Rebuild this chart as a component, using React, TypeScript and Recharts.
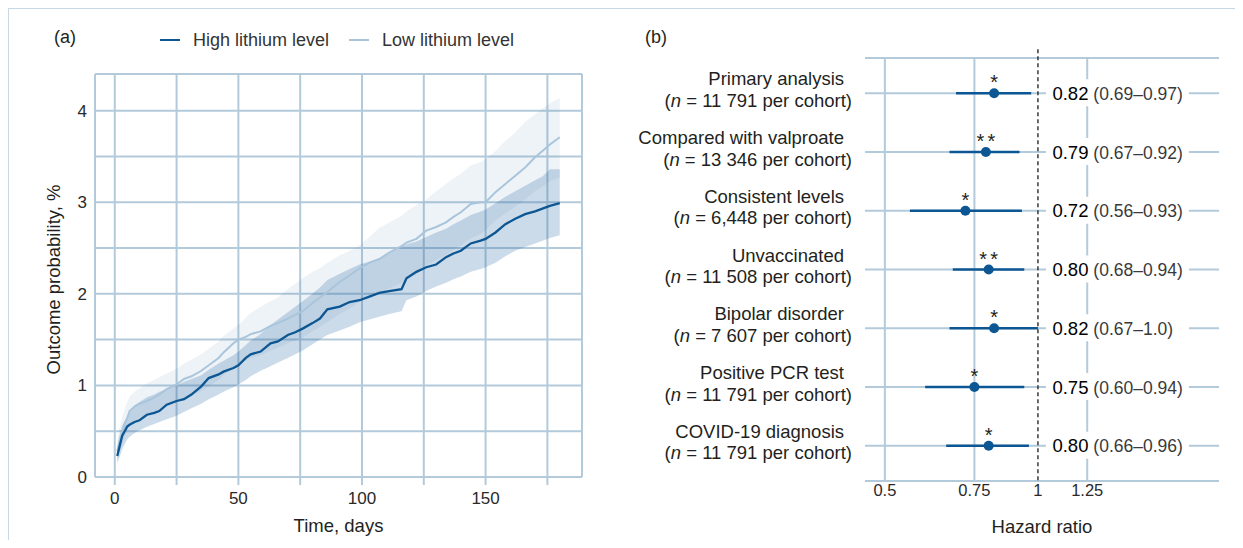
import React from 'react';
import {
  ComposedChart,
  ScatterChart,
  Scatter,
  Line,
  Area,
  XAxis,
  YAxis,
  CartesianGrid,
  ErrorBar,
  ReferenceLine,
  Label,
} from 'recharts';

const FONT = "'Liberation Sans', Arial, Helvetica, sans-serif";
const GRID = '#b3cadb';
const FRAME = '#c6d8e5';
const DARK = '#0c5793';
const LIGHT = '#a9c5db';
const BAND = '#2b6aa3';
const TEXT = '#231f20';

// ---------- Panel (a): cumulative outcome probability ----------
const days = [1, 2, 3, 4, 5, 6, 8, 10, 13, 16, 18, 21, 25, 28, 31, 35, 38, 42, 44, 48, 50, 53, 55, 59, 63, 66, 70, 73, 76, 80, 83, 86, 91, 95, 99, 103, 107, 111, 116, 118, 122, 126, 130, 134, 137, 140, 144, 148, 150, 154, 158, 162, 166, 170, 173, 176, 180];
const highLithium = [0.23, 0.34, 0.45, 0.5, 0.55, 0.57, 0.6, 0.62, 0.68, 0.7, 0.72, 0.79, 0.83, 0.85, 0.9, 0.99, 1.08, 1.12, 1.15, 1.19, 1.22, 1.3, 1.34, 1.37, 1.46, 1.48, 1.55, 1.58, 1.62, 1.68, 1.73, 1.83, 1.86, 1.91, 1.93, 1.97, 2.01, 2.03, 2.05, 2.17, 2.24, 2.29, 2.32, 2.4, 2.44, 2.47, 2.55, 2.58, 2.6, 2.67, 2.76, 2.82, 2.87, 2.9, 2.93, 2.96, 2.99];
const lowLithium = [0.28, 0.4, 0.48, 0.58, 0.64, 0.72, 0.77, 0.8, 0.83, 0.87, 0.9, 0.96, 1.01, 1.07, 1.1, 1.16, 1.22, 1.3, 1.36, 1.46, 1.5, 1.53, 1.56, 1.59, 1.65, 1.68, 1.73, 1.77, 1.81, 1.9, 1.96, 2.02, 2.13, 2.2, 2.28, 2.34, 2.38, 2.45, 2.52, 2.56, 2.6, 2.69, 2.73, 2.78, 2.84, 2.89, 2.98, 3.0, 3.0, 3.11, 3.2, 3.29, 3.38, 3.49, 3.56, 3.63, 3.71];
const highLower = [0.15, 0.22, 0.3, 0.36, 0.41, 0.44, 0.48, 0.51, 0.55, 0.58, 0.6, 0.63, 0.67, 0.71, 0.75, 0.8, 0.85, 0.9, 0.93, 0.98, 1.01, 1.06, 1.1, 1.16, 1.21, 1.25, 1.3, 1.34, 1.38, 1.45, 1.5, 1.55, 1.6, 1.64, 1.69, 1.72, 1.75, 1.78, 1.81, 1.93, 1.97, 2.03, 2.08, 2.12, 2.16, 2.19, 2.24, 2.27, 2.29, 2.34, 2.41, 2.47, 2.51, 2.55, 2.58, 2.61, 2.64];
const highUpper = [0.32, 0.46, 0.56, 0.61, 0.66, 0.7, 0.78, 0.82, 0.87, 0.9, 0.93, 0.96, 1.0, 1.04, 1.07, 1.11, 1.17, 1.24, 1.27, 1.33, 1.37, 1.44, 1.49, 1.56, 1.66, 1.72, 1.8, 1.86, 1.92, 2.0, 2.07, 2.15, 2.22, 2.27, 2.32, 2.35, 2.38, 2.44, 2.51, 2.54, 2.57, 2.62, 2.67, 2.71, 2.76, 2.8, 2.86, 2.9, 2.92, 2.99, 3.06, 3.12, 3.18, 3.24, 3.28, 3.36, 3.36];
const lowLower = [0.18, 0.28, 0.36, 0.44, 0.5, 0.56, 0.62, 0.65, 0.68, 0.71, 0.73, 0.77, 0.81, 0.86, 0.89, 0.94, 0.99, 1.06, 1.11, 1.19, 1.23, 1.27, 1.3, 1.33, 1.38, 1.41, 1.46, 1.49, 1.52, 1.59, 1.64, 1.69, 1.78, 1.84, 1.91, 1.96, 2.0, 2.06, 2.12, 2.16, 2.21, 2.31, 2.37, 2.42, 2.48, 2.53, 2.61, 2.65, 2.7, 2.8, 2.88, 2.95, 3.03, 3.12, 3.17, 3.23, 3.27];
const lowUpper = [0.4, 0.55, 0.65, 0.74, 0.82, 0.88, 0.93, 0.97, 1.02, 1.06, 1.09, 1.13, 1.18, 1.24, 1.28, 1.34, 1.4, 1.48, 1.54, 1.62, 1.66, 1.74, 1.79, 1.86, 1.92, 1.96, 2.05, 2.11, 2.17, 2.24, 2.28, 2.34, 2.42, 2.47, 2.53, 2.62, 2.72, 2.78, 2.85, 2.9, 2.97, 3.03, 3.12, 3.2, 3.26, 3.31, 3.4, 3.44, 3.47, 3.56, 3.67, 3.76, 3.88, 3.96, 4.02, 4.08, 4.14];
const timeTicks = [0, 25, 50, 75, 100, 125, 150, 175];
const probabilityTicks = [0, 0.5, 1, 1.5, 2, 2.5, 3, 3.5, 4];
const seriesNames = ['High lithium level', 'Low lithium level'];

const survival = days.map((d, i) => ({
  day: d,
  high: highLithium[i],
  low: lowLithium[i],
  highBand: [highLower[i], highUpper[i]],
  lowBand: [lowLower[i], lowUpper[i]],
}));

// ---------- Panel (b): hazard ratios ----------
const analyses = ['Primary analysis', 'Compared with valproate', 'Consistent levels', 'Unvaccinated', 'Bipolar disorder', 'Positive PCR test', 'COVID-19 diagnosis'];
const cohortSizes = ['11 791', '13 346', '6,448', '11 508', '7 607', '11 791', '11 791'];
const hazardRatios = [0.82, 0.79, 0.72, 0.8, 0.82, 0.75, 0.8];
const ciLower = [0.69, 0.67, 0.56, 0.68, 0.67, 0.6, 0.66];
const ciUpper = [0.97, 0.92, 0.93, 0.94, 1.0, 0.94, 0.96];
const significance = ['*', '**', '*', '**', '*', '*', '*'];
const hrLabels = ['0.82', '0.79', '0.72', '0.80', '0.82', '0.75', '0.80'];
const ciLabels = ['(0.69–0.97)', '(0.67–0.92)', '(0.56–0.93)', '(0.68–0.94)', '(0.67–1.0)', '(0.60–0.94)', '(0.66–0.96)'];
const hrTicks = [0.5, 0.75, 1, 1.25];
const hrGridValues = [0.5, 0.75, 1.25];
const nullEffect = 1;
const rowTicks = analyses.map((_, i) => i);

const hrPoints = hazardRatios.map((hr, i) => ({
  x: hr,
  row: i,
  err: [hr - ciLower[i], ciUpper[i] - hr],
  sig: significance[i],
}));
const hrTextRows = hazardRatios.map((_, i) => ({
  x: nullEffect,
  row: i,
  hr: hrLabels[i],
  ci: ciLabels[i],
}));

const RowTick = (props: any) => {
  const { x, y, payload } = props;
  const i = payload.value;
  if (analyses[i] === undefined) return null;
  return (
    <g>
      <text x={x - 21} y={y - 8} textAnchor="end" fontSize={18.5} fill={TEXT} fontFamily={FONT}>
        {analyses[i]}
      </text>
      <text x={x - 13} y={y + 13.5} textAnchor="end" fontSize={18.5} fill={TEXT} fontFamily={FONT}>
        (<tspan fontStyle="italic">n</tspan> = {cohortSizes[i]} per cohort)
      </text>
    </g>
  );
};

const HrDot = (props: any) => {
  const { cx, cy, payload } = props;
  const two = payload.sig.length > 1;
  return (
    <g>
      <circle cx={cx} cy={cy} r={5} fill={DARK} />
      <text
        x={cx + (two ? 1.5 : 0)}
        y={cy - 4}
        textAnchor="middle"
        fontSize={20}
        letterSpacing={two ? 3 : 0}
        fill={TEXT}
        fontFamily={FONT}
      >
        {payload.sig}
      </text>
    </g>
  );
};

const HrText = (props: any) => {
  const { cx, cy, payload } = props;
  return (
    <g>
      <rect x={cx + 8} y={cy - 14} width={143} height={27} fill="#ffffff" />
      <text x={cx + 14.5} y={cy + 6.5} fontSize={18.5} fill="#000000" fontFamily={FONT}>
        {payload.hr}
        <tspan fontSize={17.5} fill="#3a3a3a">{' ' + payload.ci}</tspan>
      </text>
    </g>
  );
};

const tickStyle = { fill: '#2a2a2a', fontSize: 17, fontFamily: FONT };

export default function App() {
  return (
    <div style={{ position: 'relative', width: 1235, height: 532, overflow: 'hidden', fontFamily: FONT }}>
      <div
        style={{
          position: 'absolute',
          left: 0,
          top: 0,
          width: 1240,
          height: 560,
          borderTop: `1.5px solid ${FRAME}`,
          borderLeft: `1.5px solid ${FRAME}`,
        }}
      />
      <div style={{ position: 'absolute', left: 0, top: 0 }}>
        <ComposedChart width={600} height={540} data={survival} margin={{ top: 66, right: 26, bottom: 0, left: 0 }}>
          <CartesianGrid stroke={GRID} strokeWidth={2} />
          <XAxis
            dataKey="day"
            type="number"
            domain={[-8, 189]}
            allowDataOverflow
            ticks={timeTicks}
            interval={0}
            tickFormatter={(v: number) => (v % 50 === 0 ? String(v) : '')}
            axisLine={false}
            tickLine={{ stroke: GRID, strokeWidth: 2 }}
            tickSize={8}
            tickMargin={7}
            height={71}
            tick={tickStyle}
          >
            <Label value="Time, days" position="insideBottom" offset={16} style={{ fill: TEXT, fontSize: 18.5, fontFamily: FONT }} />
          </XAxis>
          <YAxis
            type="number"
            domain={[0, 4.4]}
            allowDataOverflow
            ticks={probabilityTicks}
            interval={0}
            tickFormatter={(v: number) => (Number.isInteger(v) ? String(v) : '')}
            axisLine={false}
            tickLine={false}
            width={87}
            tick={tickStyle}
          >
            <Label
              content={(p: any) => {
                const vb = p.viewBox || { x: 0, y: 66, width: 87, height: 403 };
                const cx = vb.x + 45;
                const cy = vb.y + vb.height / 2 + 4;
                return (
                  <text
                    x={cx}
                    y={cy}
                    transform={`rotate(-90 ${cx} ${cy})`}
                    textAnchor="middle"
                    dominantBaseline="central"
                    fontSize={18.5}
                    fill={TEXT}
                    fontFamily={FONT}
                  >
                    Outcome probability, %
                  </text>
                );
              }}
            />
          </YAxis>
          <Area dataKey="lowBand" type="linear" stroke="none" fill={BAND} fillOpacity={0.08} isAnimationActive={false} legendType="none" />
          <Area dataKey="highBand" type="linear" stroke="none" fill={BAND} fillOpacity={0.24} isAnimationActive={false} legendType="none" />
          <Line dataKey="low" name={seriesNames[1]} type="linear" stroke={LIGHT} strokeWidth={2} dot={false} isAnimationActive={false} />
          <Line dataKey="high" name={seriesNames[0]} type="linear" stroke={DARK} strokeWidth={2.3} dot={false} isAnimationActive={false} />
        </ComposedChart>
      </div>

      <div style={{ position: 'absolute', left: 600, top: 0 }}>
        <ScatterChart width={627} height={540} margin={{ top: 50, right: 16, bottom: 0, left: 0 }}>
          <CartesianGrid stroke={GRID} strokeWidth={2} vertical={false} />
          <XAxis
            dataKey="x"
            type="number"
            scale="log"
            domain={[0.457, 2.27]}
            allowDataOverflow
            ticks={hrTicks}
            interval={0}
            tickFormatter={(v: number) => String(v)}
            axisLine={false}
            tickLine={false}
            tickSize={0}
            tickMargin={3}
            height={67}
            tick={{ fill: '#2a2a2a', fontSize: 16.5, fontFamily: FONT }}
          >
            <Label value="Hazard ratio" position="insideBottom" offset={15} style={{ fill: TEXT, fontSize: 18.5, fontFamily: FONT }} />
          </XAxis>
          <YAxis
            dataKey="row"
            type="number"
            domain={[-0.6, 6.6]}
            allowDataOverflow
            reversed
            ticks={rowTicks}
            interval={0}
            axisLine={false}
            tickLine={false}
            tickSize={0}
            tickMargin={0}
            width={257}
            tick={RowTick}
          />
          {hrGridValues.map((v) => (
            <ReferenceLine key={v} x={v} stroke={GRID} strokeWidth={2} />
          ))}
          <ReferenceLine
            segment={[
              { x: nullEffect, y: -0.75 },
              { x: nullEffect, y: 6.6 },
            ]}
            stroke="#1a1a1a"
            strokeWidth={1.3}
            strokeDasharray="4 3"
            ifOverflow="visible"
          />
          <Scatter data={hrTextRows} shape={HrText} isAnimationActive={false} />
          <Scatter data={hrPoints} shape={HrDot} isAnimationActive={false}>
            <ErrorBar dataKey="err" direction="x" width={0} stroke={DARK} strokeWidth={2.6} isAnimationActive={false} />
          </Scatter>
        </ScatterChart>
      </div>

      <div style={{ position: 'absolute', left: 46, top: 18, fontSize: 18, lineHeight: '22px', color: TEXT }}>(a)</div>
      <div style={{ position: 'absolute', left: 637, top: 18, fontSize: 18, lineHeight: '22px', color: TEXT }}>(b)</div>

      <div
        style={{
          position: 'absolute',
          left: 152,
          top: 21,
          height: 22,
          display: 'flex',
          alignItems: 'center',
          fontSize: 18,
          color: '#333333',
          whiteSpace: 'nowrap',
        }}
      >
        {[DARK, LIGHT].map((c, i) => (
          <div key={seriesNames[i]} style={{ display: 'flex', alignItems: 'center', marginRight: 20 }}>
            <span style={{ display: 'inline-block', width: 20, height: 2, background: c, marginRight: 13 }} />
            <span>{seriesNames[i]}</span>
          </div>
        ))}
      </div>
    </div>
  );
}
